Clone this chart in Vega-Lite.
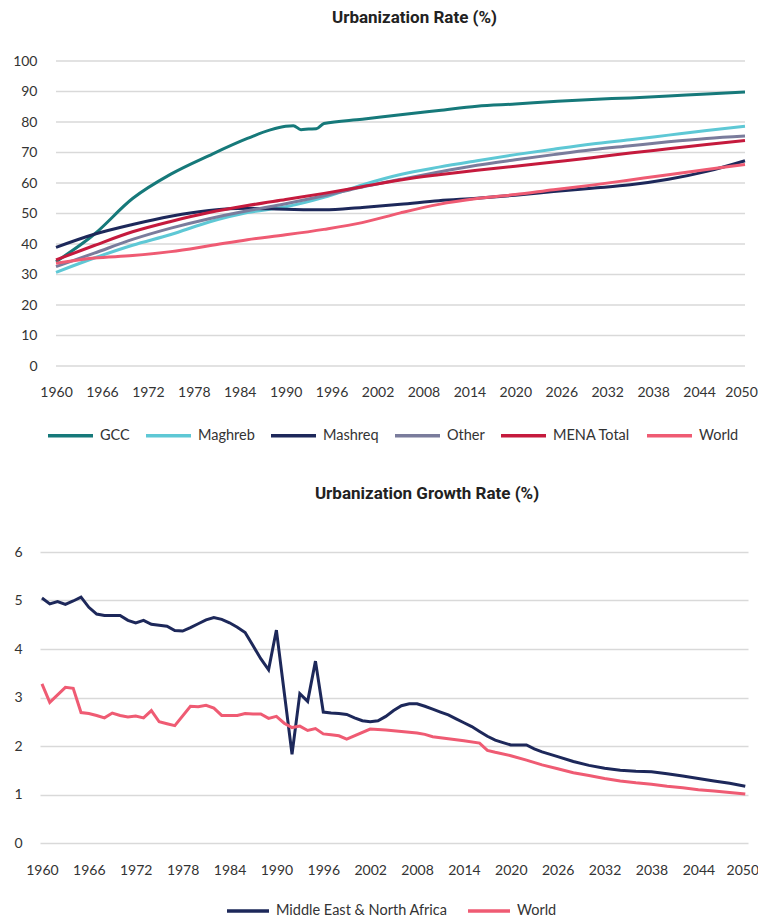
{
  "$schema": "https://vega.github.io/schema/vega-lite/v6.json",
  "padding": {"left": 12, "top": 9, "right": 0, "bottom": 0},
  "background": "white",
  "config": {
    "font": "Lato",
    "view": {"stroke": null},
    "axis": {"labelFont": "Lato", "labelColor": "#333333", "labelFontSize": 14, "domain": false, "ticks": false, "gridColor": "#d9d9d9", "gridWidth": 1.5, "title": null},
    "legend": {"labelFont": "Lato", "labelFontSize": 14.5, "labelColor": "#333333", "labelLimit": 400},
    "title": {"font": "Roboto", "fontSize": 17, "fontWeight": "bold", "color": "#222222"}
  },
  "vconcat": [
    {
      "title": {"text": "Urbanization Rate (%)", "offset": 27, "dx": 22},
      "width": 705,
      "height": 305,
      "layer": [
        {
          "data": {"name": "grid"},
          "mark": {"type": "rule", "color": "#d9d9d9", "strokeWidth": 1.5},
          "encoding": {
            "y": {"field": "v", "type": "quantitative", "scale": {"domain": [0, 100], "nice": false},
                  "axis": {"values": [0,10,20,30,40,50,60,70,80,90,100], "grid": false, "labelPadding": 3, "labelOverlap": false, "minExtent": 26, "maxExtent": 26}},
            "x": {"datum": 1960},
            "x2": {"datum": 2050}
          }
        },
        {
          "data": {"name": "top"},
          "mark": {"type": "line", "strokeWidth": 3, "interpolate": "monotone"},
          "encoding": {
            "x": {"field": "year", "type": "quantitative", "scale": {"domain": [1957.91, 2050], "nice": false, "zero": false},
                  "axis": {"values": [1960,1966,1972,1978,1984,1990,1996,2002,2008,2014,2020,2026,2032,2038,2044,2050], "format": "d", "grid": false, "labelPadding": 19, "labelFlush": false, "labelOverlap": false,
                           "labelOffset": {"condition": {"test": "datum.value == 2050", "value": -4}, "value": 0}}},
            "y": {"field": "rate", "type": "quantitative", "scale": {"domain": [0, 100], "nice": false},
                  "axis": {"values": [0,10,20,30,40,50,60,70,80,90,100], "grid": false, "labelPadding": 3, "labelOverlap": false, "minExtent": 26, "maxExtent": 26}},
            "color": {"field": "region", "type": "nominal",
                      "scale": {"domain": ["GCC","Maghreb","Mashreq","Other","MENA Total","World"], "range": ["#16797a","#5ec8d5","#1d285a","#7a7c9c","#c51a3d","#ef5b73"]},
                      "legend": {"orient": "none", "legendX": 6, "legendY": 350, "direction": "horizontal", "columns": 6, "title": null, "symbolType": "stroke", "symbolSize": 2025, "symbolStrokeWidth": 3.5, "labelOffset": 5, "columnPadding": 9}}
          }
        }
      ]
    },
    {
      "title": {"text": "Urbanization Growth Rate (%)", "offset": 42, "dx": 33},
      "width": 708,
      "height": 291,
      "data": {"name": "bottom"},
      "mark": {"type": "line", "strokeWidth": 3},
      "encoding": {
        "x": {"field": "year", "type": "quantitative", "scale": {"domain": [1959.75, 2050.35], "nice": false, "zero": false},
              "axis": {"values": [1960,1966,1972,1978,1984,1990,1996,2002,2008,2014,2020,2026,2032,2038,2044,2050], "format": "d", "grid": false, "labelPadding": 20, "labelFlush": false, "labelOverlap": false,
                       "labelOffset": {"condition": {"test": "datum.value == 2050", "value": -3}, "value": 0}}},
        "y": {"field": "rate", "type": "quantitative", "scale": {"domain": [0, 6], "nice": false},
              "axis": {"values": [0,1,2,3,4,5,6], "labelPadding": 18, "labelOverlap": false, "minExtent": 26, "maxExtent": 26}},
        "color": {"field": "region", "type": "nominal",
                  "scale": {"domain": ["Middle East & North Africa","World"], "range": ["#1d285a","#ef5b73"]},
                  "legend": {"orient": "none", "legendX": 185, "legendY": 336, "direction": "horizontal", "columns": 2, "title": null, "symbolType": "stroke", "symbolSize": 1764, "symbolStrokeWidth": 3.5, "labelOffset": 5, "columnPadding": 13}}
      }
    }
  ],
  "datasets": {
    "grid": [{"v":0},{"v":10},{"v":20},{"v":30},{"v":40},{"v":50},{"v":60},{"v":70},{"v":80},{"v":90},{"v":100}],
    "top": [
      {"year":1960,"region":"GCC","rate":34.2},{"year":1965,"region":"GCC","rate":43.2},{"year":1970,"region":"GCC","rate":54.9},{"year":1975,"region":"GCC","rate":62.9},{"year":1980,"region":"GCC","rate":69.0},{"year":1985,"region":"GCC","rate":74.6},{"year":1988,"region":"GCC","rate":77.4},{"year":1990,"region":"GCC","rate":78.6},{"year":1991,"region":"GCC","rate":78.8},{"year":1992,"region":"GCC","rate":77.5},{"year":1993,"region":"GCC","rate":77.7},{"year":1994,"region":"GCC","rate":77.8},{"year":1995,"region":"GCC","rate":79.5},{"year":2000,"region":"GCC","rate":80.9},{"year":2005,"region":"GCC","rate":82.4},{"year":2010,"region":"GCC","rate":83.8},{"year":2015,"region":"GCC","rate":85.2},{"year":2020,"region":"GCC","rate":85.9},{"year":2025,"region":"GCC","rate":86.7},{"year":2030,"region":"GCC","rate":87.4},{"year":2035,"region":"GCC","rate":87.9},{"year":2040,"region":"GCC","rate":88.5},{"year":2045,"region":"GCC","rate":89.2},{"year":2050,"region":"GCC","rate":89.8},
      {"year":1960,"region":"Maghreb","rate":30.7},{"year":1965,"region":"Maghreb","rate":35.4},{"year":1970,"region":"Maghreb","rate":39.6},{"year":1975,"region":"Maghreb","rate":43.1},{"year":1980,"region":"Maghreb","rate":47.2},{"year":1985,"region":"Maghreb","rate":50.3},{"year":1990,"region":"Maghreb","rate":52.2},{"year":1995,"region":"Maghreb","rate":55.3},{"year":2000,"region":"Maghreb","rate":59.4},{"year":2005,"region":"Maghreb","rate":62.8},{"year":2010,"region":"Maghreb","rate":65.2},{"year":2015,"region":"Maghreb","rate":67.3},{"year":2020,"region":"Maghreb","rate":69.3},{"year":2025,"region":"Maghreb","rate":71.1},{"year":2030,"region":"Maghreb","rate":72.8},{"year":2035,"region":"Maghreb","rate":74.2},{"year":2040,"region":"Maghreb","rate":75.7},{"year":2045,"region":"Maghreb","rate":77.2},{"year":2050,"region":"Maghreb","rate":78.6},
      {"year":1960,"region":"Mashreq","rate":38.9},{"year":1965,"region":"Mashreq","rate":43.2},{"year":1970,"region":"Mashreq","rate":46.4},{"year":1975,"region":"Mashreq","rate":49.1},{"year":1980,"region":"Mashreq","rate":51.0},{"year":1985,"region":"Mashreq","rate":51.7},{"year":1990,"region":"Mashreq","rate":51.4},{"year":1995,"region":"Mashreq","rate":51.2},{"year":2000,"region":"Mashreq","rate":52.0},{"year":2005,"region":"Mashreq","rate":53.0},{"year":2010,"region":"Mashreq","rate":54.2},{"year":2015,"region":"Mashreq","rate":55.0},{"year":2020,"region":"Mashreq","rate":56.0},{"year":2025,"region":"Mashreq","rate":57.2},{"year":2030,"region":"Mashreq","rate":58.3},{"year":2035,"region":"Mashreq","rate":59.4},{"year":2040,"region":"Mashreq","rate":61.2},{"year":2045,"region":"Mashreq","rate":63.8},{"year":2050,"region":"Mashreq","rate":67.3},
      {"year":1960,"region":"Other","rate":32.6},{"year":1965,"region":"Other","rate":37.0},{"year":1970,"region":"Other","rate":41.5},{"year":1975,"region":"Other","rate":45.2},{"year":1980,"region":"Other","rate":48.3},{"year":1985,"region":"Other","rate":50.9},{"year":1990,"region":"Other","rate":53.2},{"year":1995,"region":"Other","rate":55.8},{"year":2000,"region":"Other","rate":58.7},{"year":2005,"region":"Other","rate":61.2},{"year":2010,"region":"Other","rate":63.6},{"year":2015,"region":"Other","rate":65.8},{"year":2020,"region":"Other","rate":67.6},{"year":2025,"region":"Other","rate":69.3},{"year":2030,"region":"Other","rate":70.9},{"year":2035,"region":"Other","rate":72.2},{"year":2040,"region":"Other","rate":73.5},{"year":2045,"region":"Other","rate":74.6},{"year":2050,"region":"Other","rate":75.4},
      {"year":1960,"region":"MENA Total","rate":34.8},{"year":1965,"region":"MENA Total","rate":39.5},{"year":1970,"region":"MENA Total","rate":44.0},{"year":1975,"region":"MENA Total","rate":47.4},{"year":1980,"region":"MENA Total","rate":50.3},{"year":1985,"region":"MENA Total","rate":52.6},{"year":1990,"region":"MENA Total","rate":54.6},{"year":1995,"region":"MENA Total","rate":56.6},{"year":2000,"region":"MENA Total","rate":58.8},{"year":2005,"region":"MENA Total","rate":61.0},{"year":2010,"region":"MENA Total","rate":62.7},{"year":2015,"region":"MENA Total","rate":64.2},{"year":2020,"region":"MENA Total","rate":65.5},{"year":2025,"region":"MENA Total","rate":66.9},{"year":2030,"region":"MENA Total","rate":68.3},{"year":2035,"region":"MENA Total","rate":69.8},{"year":2040,"region":"MENA Total","rate":71.2},{"year":2045,"region":"MENA Total","rate":72.6},{"year":2050,"region":"MENA Total","rate":73.9},
      {"year":1960,"region":"World","rate":33.7},{"year":1965,"region":"World","rate":35.4},{"year":1970,"region":"World","rate":36.2},{"year":1975,"region":"World","rate":37.5},{"year":1980,"region":"World","rate":39.4},{"year":1985,"region":"World","rate":41.4},{"year":1990,"region":"World","rate":43.0},{"year":1995,"region":"World","rate":44.8},{"year":2000,"region":"World","rate":47.0},{"year":2005,"region":"World","rate":50.2},{"year":2010,"region":"World","rate":53.0},{"year":2015,"region":"World","rate":54.9},{"year":2020,"region":"World","rate":56.2},{"year":2025,"region":"World","rate":57.8},{"year":2030,"region":"World","rate":59.3},{"year":2035,"region":"World","rate":61.0},{"year":2040,"region":"World","rate":62.7},{"year":2045,"region":"World","rate":64.4},{"year":2050,"region":"World","rate":66.1}
    ],
    "bottom": [
      {"year":1960,"region":"Middle East & North Africa","rate":5.05},{"year":1961,"region":"Middle East & North Africa","rate":4.93},{"year":1962,"region":"Middle East & North Africa","rate":4.98},{"year":1963,"region":"Middle East & North Africa","rate":4.92},{"year":1964,"region":"Middle East & North Africa","rate":4.99},{"year":1965,"region":"Middle East & North Africa","rate":5.07},{"year":1966,"region":"Middle East & North Africa","rate":4.86},{"year":1967,"region":"Middle East & North Africa","rate":4.72},{"year":1968,"region":"Middle East & North Africa","rate":4.69},{"year":1969,"region":"Middle East & North Africa","rate":4.69},{"year":1970,"region":"Middle East & North Africa","rate":4.69},{"year":1971,"region":"Middle East & North Africa","rate":4.59},{"year":1972,"region":"Middle East & North Africa","rate":4.54},{"year":1973,"region":"Middle East & North Africa","rate":4.59},{"year":1974,"region":"Middle East & North Africa","rate":4.51},{"year":1975,"region":"Middle East & North Africa","rate":4.49},{"year":1976,"region":"Middle East & North Africa","rate":4.47},{"year":1977,"region":"Middle East & North Africa","rate":4.38},{"year":1978,"region":"Middle East & North Africa","rate":4.37},{"year":1979,"region":"Middle East & North Africa","rate":4.44},{"year":1980,"region":"Middle East & North Africa","rate":4.52},{"year":1981,"region":"Middle East & North Africa","rate":4.60},{"year":1982,"region":"Middle East & North Africa","rate":4.65},{"year":1983,"region":"Middle East & North Africa","rate":4.61},{"year":1984,"region":"Middle East & North Africa","rate":4.54},{"year":1985,"region":"Middle East & North Africa","rate":4.45},{"year":1986,"region":"Middle East & North Africa","rate":4.34},{"year":1987,"region":"Middle East & North Africa","rate":4.07},{"year":1988,"region":"Middle East & North Africa","rate":3.80},{"year":1989,"region":"Middle East & North Africa","rate":3.57},{"year":1990,"region":"Middle East & North Africa","rate":4.39},{"year":1992,"region":"Middle East & North Africa","rate":1.83},{"year":1993,"region":"Middle East & North Africa","rate":3.08},{"year":1994,"region":"Middle East & North Africa","rate":2.92},{"year":1995,"region":"Middle East & North Africa","rate":3.75},{"year":1996,"region":"Middle East & North Africa","rate":2.70},{"year":1997,"region":"Middle East & North Africa","rate":2.68},{"year":1998,"region":"Middle East & North Africa","rate":2.67},{"year":1999,"region":"Middle East & North Africa","rate":2.65},{"year":2000,"region":"Middle East & North Africa","rate":2.58},{"year":2001,"region":"Middle East & North Africa","rate":2.52},{"year":2002,"region":"Middle East & North Africa","rate":2.50},{"year":2003,"region":"Middle East & North Africa","rate":2.52},{"year":2004,"region":"Middle East & North Africa","rate":2.61},{"year":2005,"region":"Middle East & North Africa","rate":2.73},{"year":2006,"region":"Middle East & North Africa","rate":2.83},{"year":2007,"region":"Middle East & North Africa","rate":2.87},{"year":2008,"region":"Middle East & North Africa","rate":2.87},{"year":2009,"region":"Middle East & North Africa","rate":2.82},{"year":2010,"region":"Middle East & North Africa","rate":2.76},{"year":2011,"region":"Middle East & North Africa","rate":2.70},{"year":2012,"region":"Middle East & North Africa","rate":2.64},{"year":2013,"region":"Middle East & North Africa","rate":2.56},{"year":2014,"region":"Middle East & North Africa","rate":2.48},{"year":2015,"region":"Middle East & North Africa","rate":2.40},{"year":2016,"region":"Middle East & North Africa","rate":2.30},{"year":2017,"region":"Middle East & North Africa","rate":2.20},{"year":2018,"region":"Middle East & North Africa","rate":2.12},{"year":2019,"region":"Middle East & North Africa","rate":2.07},{"year":2020,"region":"Middle East & North Africa","rate":2.02},{"year":2022,"region":"Middle East & North Africa","rate":2.02},{"year":2023,"region":"Middle East & North Africa","rate":1.94},{"year":2024,"region":"Middle East & North Africa","rate":1.88},{"year":2026,"region":"Middle East & North Africa","rate":1.78},{"year":2028,"region":"Middle East & North Africa","rate":1.68},{"year":2030,"region":"Middle East & North Africa","rate":1.60},{"year":2032,"region":"Middle East & North Africa","rate":1.54},{"year":2034,"region":"Middle East & North Africa","rate":1.50},{"year":2036,"region":"Middle East & North Africa","rate":1.48},{"year":2038,"region":"Middle East & North Africa","rate":1.47},{"year":2040,"region":"Middle East & North Africa","rate":1.43},{"year":2042,"region":"Middle East & North Africa","rate":1.38},{"year":2044,"region":"Middle East & North Africa","rate":1.33},{"year":2046,"region":"Middle East & North Africa","rate":1.28},{"year":2048,"region":"Middle East & North Africa","rate":1.23},{"year":2050,"region":"Middle East & North Africa","rate":1.17},
      {"year":1960,"region":"World","rate":3.28},{"year":1961,"region":"World","rate":2.90},{"year":1963,"region":"World","rate":3.21},{"year":1964,"region":"World","rate":3.19},{"year":1965,"region":"World","rate":2.69},{"year":1966,"region":"World","rate":2.67},{"year":1967,"region":"World","rate":2.63},{"year":1968,"region":"World","rate":2.58},{"year":1969,"region":"World","rate":2.68},{"year":1970,"region":"World","rate":2.63},{"year":1971,"region":"World","rate":2.60},{"year":1972,"region":"World","rate":2.62},{"year":1973,"region":"World","rate":2.58},{"year":1974,"region":"World","rate":2.73},{"year":1975,"region":"World","rate":2.50},{"year":1976,"region":"World","rate":2.46},{"year":1977,"region":"World","rate":2.42},{"year":1979,"region":"World","rate":2.82},{"year":1980,"region":"World","rate":2.81},{"year":1981,"region":"World","rate":2.84},{"year":1982,"region":"World","rate":2.78},{"year":1983,"region":"World","rate":2.63},{"year":1984,"region":"World","rate":2.63},{"year":1985,"region":"World","rate":2.63},{"year":1986,"region":"World","rate":2.67},{"year":1987,"region":"World","rate":2.66},{"year":1988,"region":"World","rate":2.66},{"year":1989,"region":"World","rate":2.57},{"year":1990,"region":"World","rate":2.61},{"year":1991,"region":"World","rate":2.47},{"year":1992,"region":"World","rate":2.38},{"year":1993,"region":"World","rate":2.41},{"year":1994,"region":"World","rate":2.32},{"year":1995,"region":"World","rate":2.36},{"year":1996,"region":"World","rate":2.25},{"year":1997,"region":"World","rate":2.23},{"year":1998,"region":"World","rate":2.21},{"year":1999,"region":"World","rate":2.14},{"year":2002,"region":"World","rate":2.35},{"year":2004,"region":"World","rate":2.33},{"year":2006,"region":"World","rate":2.30},{"year":2008,"region":"World","rate":2.27},{"year":2009,"region":"World","rate":2.24},{"year":2010,"region":"World","rate":2.19},{"year":2012,"region":"World","rate":2.15},{"year":2014,"region":"World","rate":2.11},{"year":2016,"region":"World","rate":2.06},{"year":2017,"region":"World","rate":1.91},{"year":2018,"region":"World","rate":1.87},{"year":2020,"region":"World","rate":1.80},{"year":2022,"region":"World","rate":1.71},{"year":2024,"region":"World","rate":1.61},{"year":2026,"region":"World","rate":1.53},{"year":2028,"region":"World","rate":1.45},{"year":2030,"region":"World","rate":1.39},{"year":2032,"region":"World","rate":1.33},{"year":2034,"region":"World","rate":1.28},{"year":2036,"region":"World","rate":1.24},{"year":2038,"region":"World","rate":1.21},{"year":2040,"region":"World","rate":1.17},{"year":2042,"region":"World","rate":1.14},{"year":2044,"region":"World","rate":1.10},{"year":2046,"region":"World","rate":1.07},{"year":2048,"region":"World","rate":1.04},{"year":2050,"region":"World","rate":1.01}
    ]
  },
  "resolve": {"scale": {"color": "independent"}},
  "align": "none",
  "center": false,
  "spacing": 42
}
